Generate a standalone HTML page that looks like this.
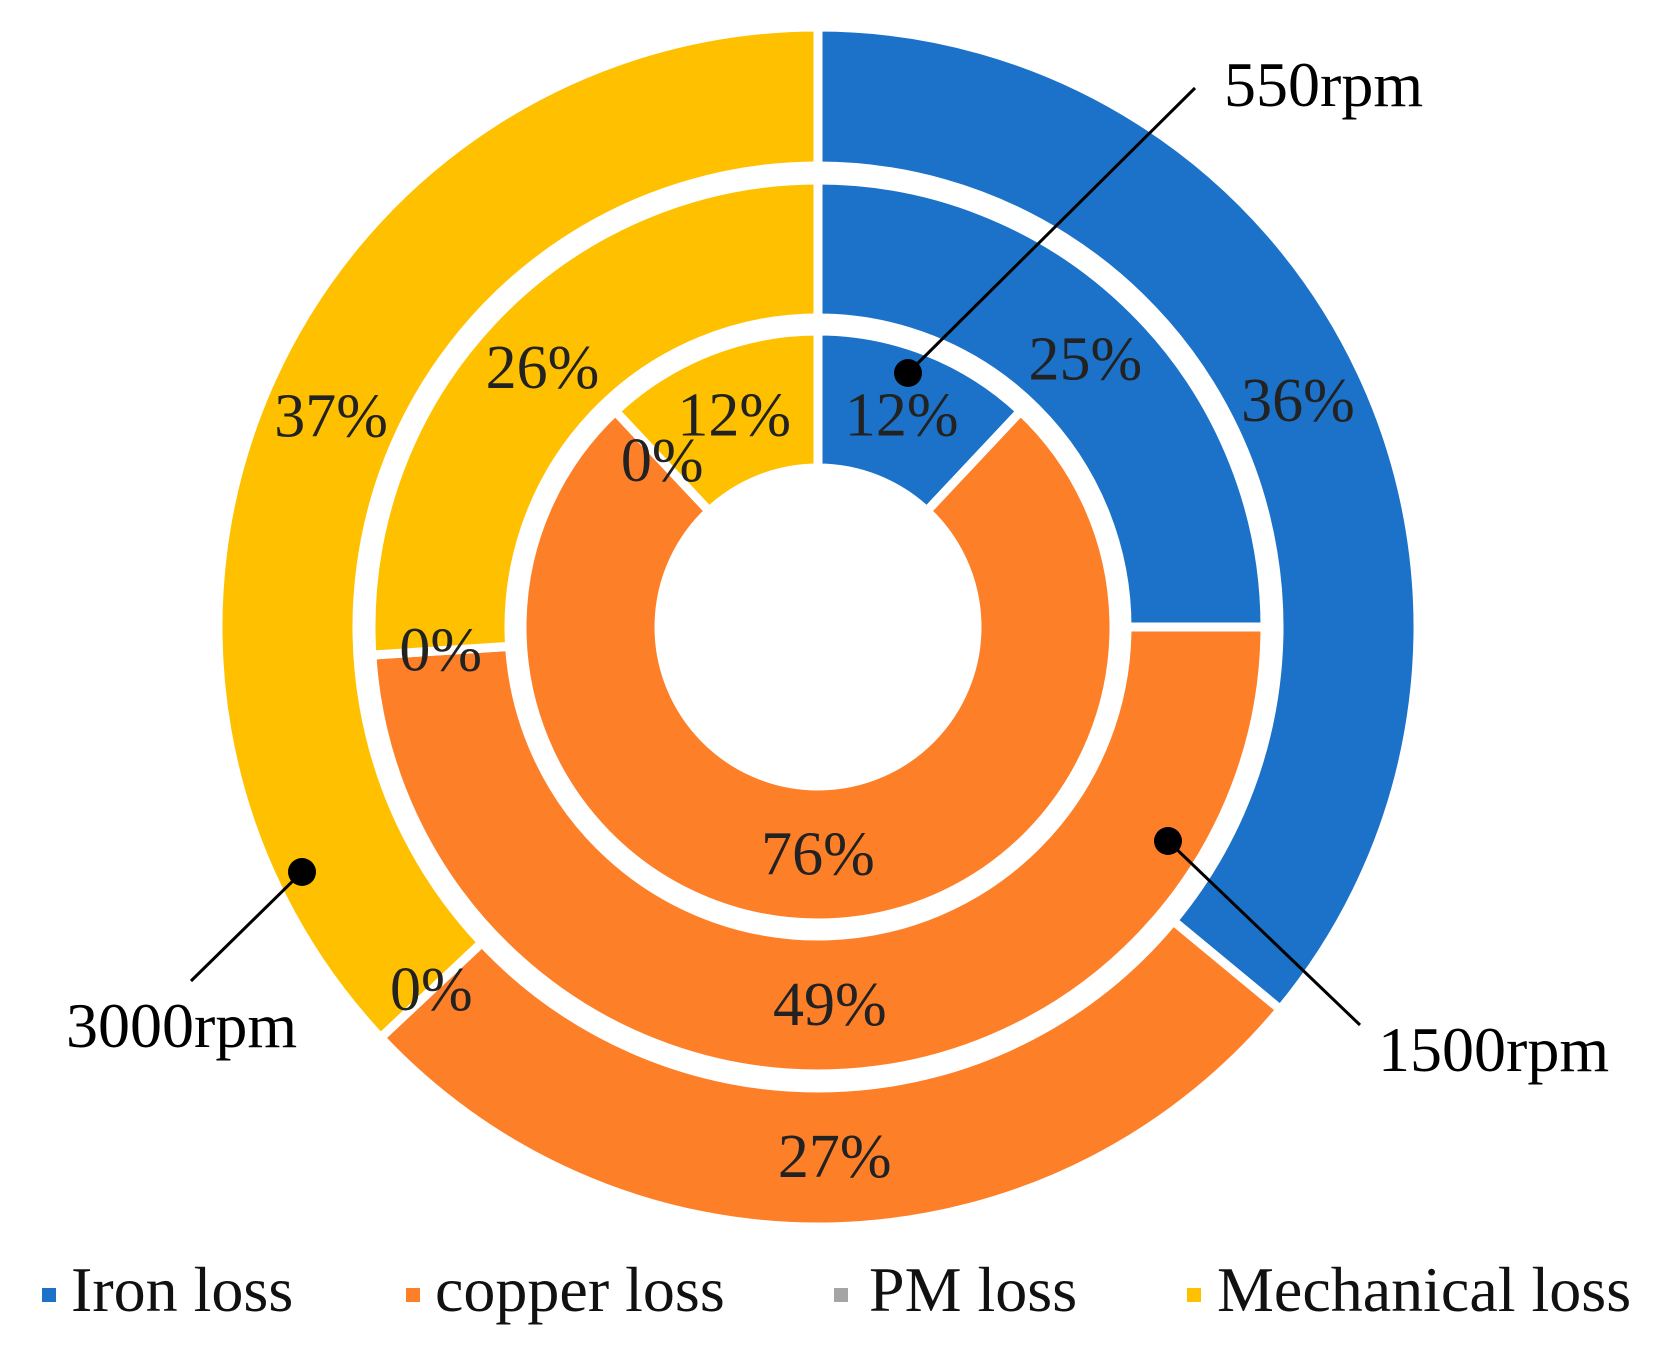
<!DOCTYPE html>
<html><head><meta charset="utf-8"><style>
html,body{margin:0;padding:0;background:#fff;}
svg{display:block;font-family:"Liberation Serif",serif;}
</style></head><body>
<svg id="chart" width="1659" height="1346" viewBox="0 0 1659 1346">
<g id="rings"></g>
<g id="labels"></g>
<g id="callouts"></g>
<g id="legend"></g>
</svg>
<script>
const categories = ["Iron loss","copper loss","PM loss","Mechanical loss"];
const speeds = ["550rpm","1500rpm","3000rpm"];
const values550 = [12,76,0,12];
const values1500 = [25,49,0,26];
const values3000 = [36,27,0,37];
const colors = ["#1B72C8","#FD7F28","#A5A5A5","#FFC000"];
const NS="http://www.w3.org/2000/svg";
const cx=818, cy=627;
const radii=[[159,296],[309,447],[461,600]];
const series=[values550,values1500,values3000];
function pt(r,frac){const a=frac*2*Math.PI;return [cx+r*Math.sin(a),cy-r*Math.cos(a)];}
function mk(tag,attrs,parent){const e=document.createElementNS(NS,tag);for(const k in attrs)e.setAttribute(k,attrs[k]);parent.appendChild(e);return e;}
const ringsG=document.getElementById('rings'),labG=document.getElementById('labels');
series.forEach((vals,ri)=>{
  const tot=vals.reduce((a,b)=>a+b,0);let acc=0;
  const [r0,r1]=radii[ri];
  vals.forEach((v,ci)=>{
    const f0=acc/tot,f1=(acc+v)/tot;acc+=v;
    if(v>0){
      const large=(f1-f0)>0.5?1:0;
      const a=pt(r1,f0),b=pt(r1,f1),c=pt(r0,f1),d=pt(r0,f0);
      const p=mk('path',{d:`M${a[0]},${a[1]} A${r1},${r1} 0 ${large} 1 ${b[0]},${b[1]} L${c[0]},${c[1]} A${r0},${r0} 0 ${large} 0 ${d[0]},${d[1]} Z`,fill:colors[ci],stroke:'#fff','stroke-width':9},ringsG);
      
      
    }
    const m=pt((r0+r1)/2,(f0+f1)/2);
    const t=mk('text',{x:m[0],y:m[1]+20,'text-anchor':'middle','font-size':62,fill:'#222'},labG);
    t.textContent=Math.round(v/tot*100)+'%';
    
    
  });
});
const co=document.getElementById('callouts');
const callouts=[[908,373,1195,88,"550rpm",1224,106,'start'],[1168,841,1360,1025,"1500rpm",1378,1071,'start'],[302,872,191,981,"3000rpm",66,1047,'start']];
callouts.forEach(c=>{
  const l=mk('line',{x1:c[0],y1:c[1],x2:c[2],y2:c[3],stroke:'#000','stroke-width':3},co);
  
  
  const d=mk('circle',{cx:c[0],cy:c[1],r:14,fill:'#000'},co);
  
  
  const t=mk('text',{x:c[5],y:c[6],'font-size':64,fill:'#000','text-anchor':c[7]},co);
  t.textContent=c[4];
  
  
});
const lg=document.getElementById('legend');
const lx=[[42,71],[406,435],[834,869],[1187,1217]];
categories.forEach((c,i)=>{
  const s=mk('rect',{x:lx[i][0],y:1288,width:14,height:14,fill:colors[i]},lg);
  
  
  const t=mk('text',{x:lx[i][1],y:1311,'font-size':64,fill:'#111'},lg);
  t.textContent=c;
  
  
});
</script>
</body></html>
